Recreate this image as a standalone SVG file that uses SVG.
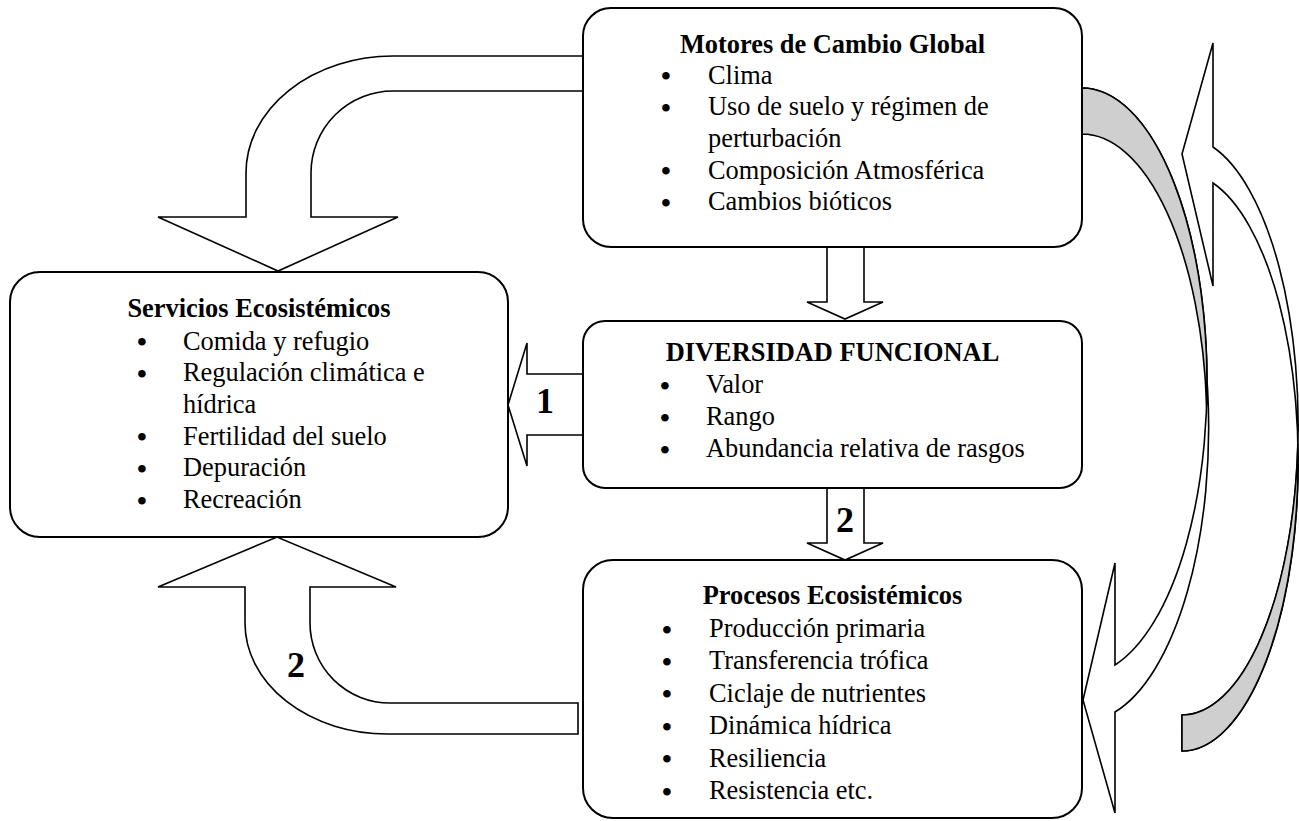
<svg xmlns="http://www.w3.org/2000/svg" width="1299" height="821" viewBox="0 0 1299 821">
<style>
.box{fill:#fff;stroke:#000;stroke-width:2}
.arr{fill:#fff;stroke:#000;stroke-width:1.6;stroke-linejoin:miter}
.shade{fill:#cfcfcf;stroke:#000;stroke-width:1.6}
text{font-family:"Liberation Serif","Times New Roman",serif;fill:#000}
.t{font-size:26.4px;font-weight:bold;text-anchor:middle}
.i{font-size:26.4px}
.b{font-size:28px;font-weight:bold}
.lbl{font-size:36px;font-weight:bold;text-anchor:middle}
</style>
<rect width="1299" height="821" fill="#fff"/>
<g id="connectors">
  <path class="arr" d="M583,56 L393,56 A147,117 0 0 0 246,173 L246,217 L158,217 L278,271 L398,217 L311,217 L311,173 A82,82 0 0 1 393,91 L583,91 Z"/>
  <path class="arr" d="M578,703 L390,703 A80,80 0 0 1 310,623 L310,587 L396,587 L277,537 L158,587 L245,587 L245,623 A142,111 0 0 0 387,734 L578,734 Z"/>
  <path class="arr" d="M583,374 L527,374 L527,343 L508,405 L527,466 L527,435 L583,435 Z"/>
  <path class="arr" d="M827,247 L827,302 L807,302 L845,319 L883,302 L864,302 L864,247 Z"/>
  <path class="arr" d="M827,488 L827,543 L807,543 L845,560 L883,543 L864,543 L864,488 Z"/>
  <path class="arr" d="M1082,88 A125,293.7 0 0 1 1115,665 L1115,563 L1083,700 L1115,813 L1115,712 A125,293.7 0 0 0 1082,134 Z"/>
  <path class="shade" d="M1082,88 A125,293.7 0 0 1 1206.6,404.7 A125,293.7 0 0 0 1082,134 Z"/>
  <path class="arr" d="M1213,147 A116,289.2 0 0 1 1182,715 L1182,751 A116,289.2 0 0 0 1213,183 L1213,286 L1182,154 L1213,43 Z"/>
  <path class="shade" d="M1297.8,443.8 A116,289.2 0 0 1 1182,715 L1182,751 A116,289.2 0 0 0 1297.8,443.8 Z"/>
  <text class="lbl" x="545" y="413">1</text>
  <text class="lbl" x="845" y="532">2</text>
  <text class="lbl" x="296" y="677">2</text>
</g>
<g id="motores">
  <rect class="box" x="583" y="8" width="499" height="239" rx="28" ry="28"/>
  <text class="t" x="832.5" y="53">Motores de Cambio Global</text>
  <text class="i">
    <tspan class="b" x="661" y="85">•</tspan><tspan x="708" y="83.5">Clima</tspan>
    <tspan class="b" x="661" y="116.7">•</tspan><tspan x="708" y="115.2">Uso de suelo y régimen de</tspan>
    <tspan x="708" y="146.9">perturbación</tspan>
    <tspan class="b" x="661" y="180.1">•</tspan><tspan x="708" y="178.6">Composición Atmosférica</tspan>
    <tspan class="b" x="661" y="211.8">•</tspan><tspan x="708" y="210.3">Cambios bióticos</tspan>
  </text>
</g>
<g id="diversidad">
  <rect class="box" x="583" y="321" width="499" height="167" rx="22" ry="22"/>
  <text class="t" x="832.5" y="361">DIVERSIDAD FUNCIONAL</text>
  <text class="i">
    <tspan class="b" x="660" y="394.5">•</tspan><tspan x="706" y="393">Valor</tspan>
    <tspan class="b" x="660" y="426.5">•</tspan><tspan x="706" y="425">Rango</tspan>
    <tspan class="b" x="660" y="458.5">•</tspan><tspan x="706" y="457">Abundancia relativa de rasgos</tspan>
  </text>
</g>
<g id="servicios">
  <rect class="box" x="10" y="272" width="498" height="265" rx="30" ry="30"/>
  <text class="t" x="259" y="317">Servicios Ecosistémicos</text>
  <text class="i">
    <tspan class="b" x="137" y="351">•</tspan><tspan x="183" y="349.5">Comida y refugio</tspan>
    <tspan class="b" x="137" y="382.7">•</tspan><tspan x="183" y="381.2">Regulación climática e</tspan>
    <tspan x="183" y="412.9">hídrica</tspan>
    <tspan class="b" x="137" y="446.1">•</tspan><tspan x="183" y="444.6">Fertilidad del suelo</tspan>
    <tspan class="b" x="137" y="477.8">•</tspan><tspan x="183" y="476.3">Depuración</tspan>
    <tspan class="b" x="137" y="509.5">•</tspan><tspan x="183" y="508">Recreación</tspan>
  </text>
</g>
<g id="procesos">
  <rect class="box" x="583" y="560" width="499" height="258" rx="30" ry="30"/>
  <text class="t" x="832.5" y="604">Procesos Ecosistémicos</text>
  <text class="i">
    <tspan class="b" x="662" y="638.5">•</tspan><tspan x="709" y="637">Producción primaria</tspan>
    <tspan class="b" x="662" y="670.9">•</tspan><tspan x="709" y="669.4">Transferencia trófica</tspan>
    <tspan class="b" x="662" y="703.3">•</tspan><tspan x="709" y="701.8">Ciclaje de nutrientes</tspan>
    <tspan class="b" x="662" y="735.7">•</tspan><tspan x="709" y="734.2">Dinámica hídrica</tspan>
    <tspan class="b" x="662" y="768.1">•</tspan><tspan x="709" y="766.6">Resiliencia</tspan>
    <tspan class="b" x="662" y="800.5">•</tspan><tspan x="709" y="799">Resistencia etc.</tspan>
  </text>
</g>
</svg>
